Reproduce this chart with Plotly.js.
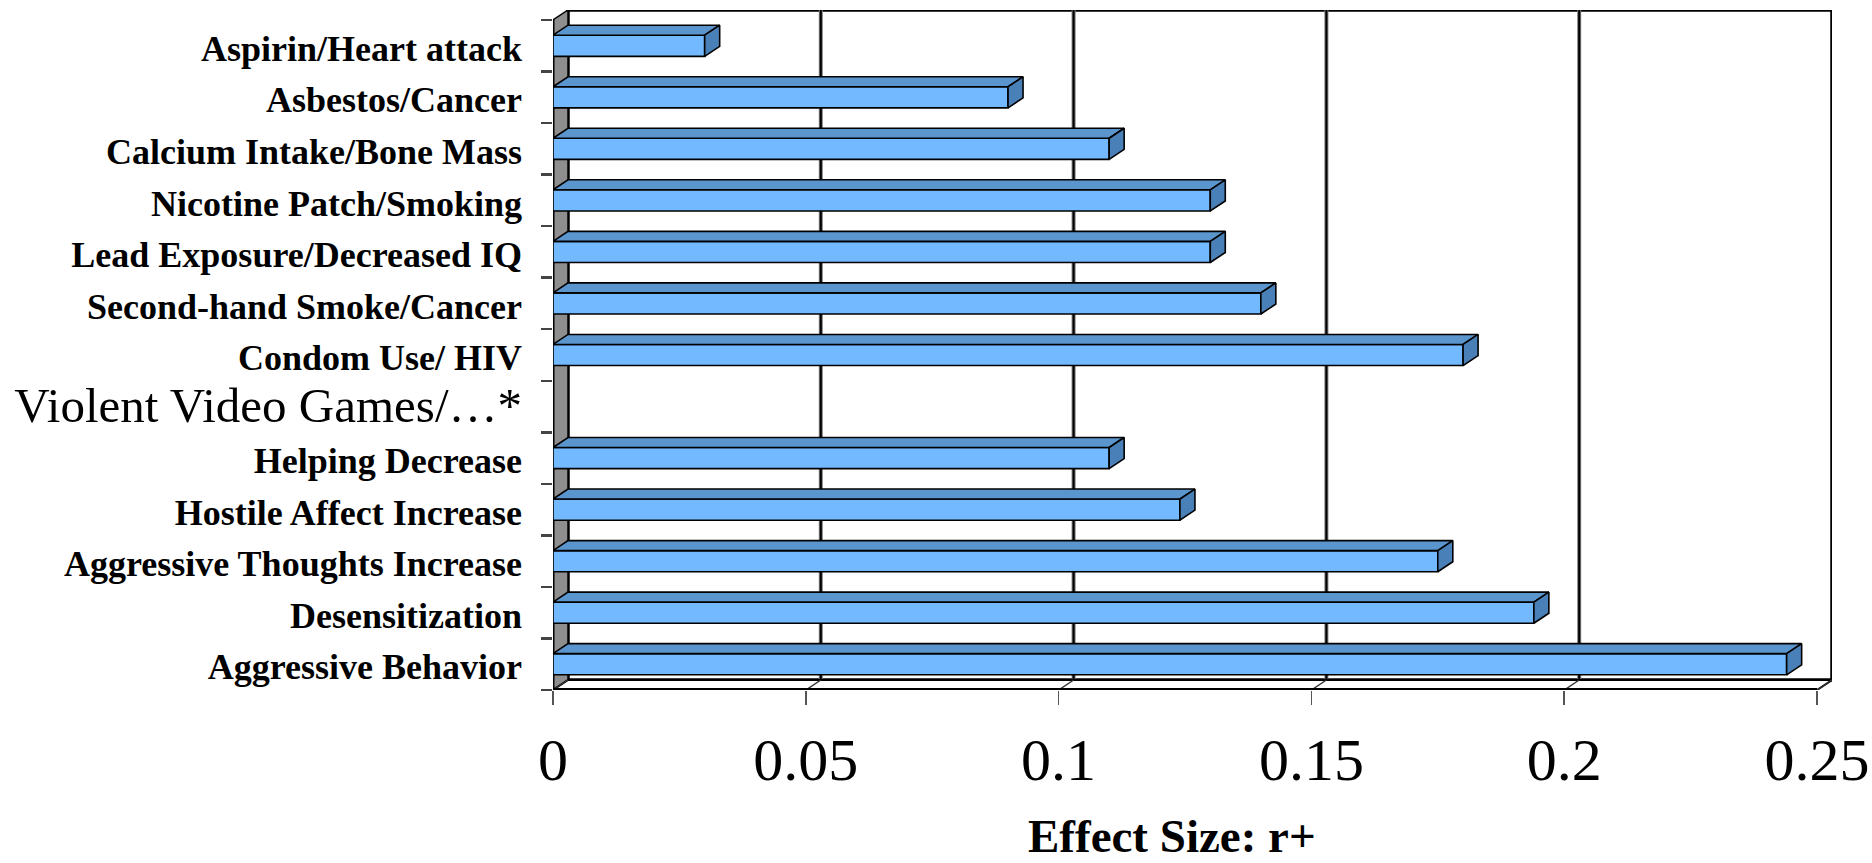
<!DOCTYPE html>
<html>
<head>
<meta charset="utf-8">
<script src="https://cdn.plot.ly/plotly-3.0.1.min.js"></script>
<style>
html,body{margin:0;padding:0;background:#ffffff;}
#chart{width:1872px;height:863px;}
</style>
</head>
<body>
<div id="chart"></div>
<script>
// ---- data ----
const categories = [
  "Aspirin/Heart attack",
  "Asbestos/Cancer",
  "Calcium Intake/Bone Mass",
  "Nicotine Patch/Smoking",
  "Lead Exposure/Decreased IQ",
  "Second-hand Smoke/Cancer",
  "Condom Use/ HIV",
  "Violent Video Games/…*",
  "Helping Decrease",
  "Hostile Affect Increase",
  "Aggressive Thoughts Increase",
  "Desensitization",
  "Aggressive Behavior"
];
const effectSizes = [0.03, 0.09, 0.11, 0.13, 0.13, 0.14, 0.18, null, 0.11, 0.124, 0.175, 0.194, 0.244];
const headerCategory = "Violent Video Games/…*";
const xTickVals = [0, 0.05, 0.1, 0.15, 0.2, 0.25];
const xTickText = ["0", "0.05", "0.1", "0.15", "0.2", "0.25"];
const xTitle = "Effect Size: r+";

// ---- geometry helpers (3-D look) ----
const N = categories.length;
const XMAX = 0.25;
const DX = XMAX * 15 / 1264;   // depth offset, x units
const DY = 10 / 51.54;         // depth offset, y units
const BAR_H = 0.41;
const yPos = categories.map((c, i) => N - 1 - i + 0.5);

const FONT = "Liberation Serif, Times New Roman, serif";
const FRONT = "#73B9FF", TOP = "#5A95CE", CAP = "#4A80B8", WALL = "#8E8E8E";

// front faces: real bar trace
const barTrace = {
  type: "bar", orientation: "h",
  x: effectSizes, y: yPos, base: 0, width: BAR_H,
  marker: {color: FRONT, line: {color: "#000", width: 1.6}},
  hoverinfo: "skip", showlegend: false
};

// top faces and end caps as filled polygons derived from the values
const topX = [], topY = [], capX = [], capY = [];
effectSizes.forEach((v, i) => {
  if (v === null) return;
  const yc = yPos[i], yt = yc + BAR_H / 2, yb = yc - BAR_H / 2;
  topX.push(0, v, v + DX, DX, 0, null);
  topY.push(yt, yt, yt + DY, yt + DY, yt, null);
  capX.push(v, v, v + DX, v + DX, v, null);
  capY.push(yb, yt, yt + DY, yb + DY, yb, null);
});
const topTrace = {type: "scatter", mode: "lines", x: topX, y: topY, fill: "toself",
  fillcolor: TOP, line: {color: "#000", width: 1.6}, hoverinfo: "skip", showlegend: false};
const capTrace = {type: "scatter", mode: "lines", x: capX, y: capY, fill: "toself",
  fillcolor: CAP, line: {color: "#000", width: 1.6}, hoverinfo: "skip", showlegend: false};
const dummy2 = {type: "scatter", x: [], y: [], yaxis: "y2", showlegend: false, hoverinfo: "skip"};

// ---- walls, floor, gridlines ----
const shapes = [];
// back wall
shapes.push({type: "path", layer: "below", xref: "x", yref: "y",
  path: `M ${DX},${DY} L ${XMAX + DX},${DY} L ${XMAX + DX},${N + DY} L ${DX},${N + DY} Z`,
  fillcolor: "#fff", line: {color: "#000", width: 3.5}});
// gridlines on the back wall
xTickVals.slice(1, -1).forEach(t => {
  shapes.push({type: "line", layer: "below", xref: "x", yref: "y",
    x0: t + DX, x1: t + DX, y0: DY, y1: N + DY, line: {color: "#7a7a7a", width: 4}});
  shapes.push({type: "line", layer: "below", xref: "x", yref: "y",
    x0: t + DX, x1: t + DX, y0: DY, y1: N + DY, line: {color: "#000", width: 2}});
});
// left wall
shapes.push({type: "path", layer: "below", xref: "x", yref: "y",
  path: `M 0,0 L ${DX},${DY} L ${DX},${N + DY} L 0,${N} Z`,
  fillcolor: WALL, line: {color: "#000", width: 1.5}});
// floor
shapes.push({type: "path", layer: "below", xref: "x", yref: "y",
  path: `M 0,0 L ${XMAX},0 L ${XMAX + DX},${DY} L ${DX},${DY} Z`,
  fillcolor: "#fff", line: {color: "#000", width: 2}});
xTickVals.forEach(t => {
  shapes.push({type: "line", layer: "below", xref: "x", yref: "y",
    x0: t, x1: t + DX, y0: 0, y1: DY, line: {color: "#333", width: 1.5}});
});
// front edges
shapes.push({type: "line", layer: "below", xref: "x", yref: "y",
  x0: 0, x1: XMAX, y0: 0, y1: 0, line: {color: "#000", width: 4}});
shapes.push({type: "line", layer: "below", xref: "x", yref: "y",
  x0: 0, x1: 0, y0: 0, y1: N, line: {color: "#000", width: 3}});

const tickText = categories.map(c => c === headerCategory
  ? `<span style="font-size:49px">${c}</span>` : `<b>${c}</b>`);

const layout = {
  width: 1872, height: 863,
  margin: {l: 553, r: 40, t: 10, b: 173, pad: 0},
  paper_bgcolor: "#fff", plot_bgcolor: "rgba(0,0,0,0)",
  showlegend: false,
  xaxis: {
    range: [0, XMAX + DX], showgrid: false, zeroline: false, showline: false,
    tickmode: "array", tickvals: xTickVals, ticktext: xTickText,
    ticks: "outside", ticklen: 14, tickwidth: 1.5, tickcolor: "#555",
    ticklabelstandoff: 3,
    tickfont: {family: FONT, size: 60, color: "#000"}
  },
  yaxis: {
    range: [0, N + DY], showgrid: false, zeroline: false, showline: false,
    tickmode: "array", tickvals: yPos.map(v => v - 0.05), ticktext: tickText,
    ticks: "", ticklabelstandoff: 30,
    tickfont: {family: FONT, size: 36, color: "#000"}
  },
  yaxis2: {
    overlaying: "y", side: "left", anchor: "x",
    range: [0, N + DY], showgrid: false, zeroline: false, showline: false,
    tickmode: "array", tickvals: categories.map((c, i) => i).concat([N]),
    ticks: "outside", ticklen: 11, tickwidth: 2.5, tickcolor: "#444",
    showticklabels: false
  },
  annotations: [{
    text: "<b>" + xTitle + "</b>", xref: "paper", yref: "paper",
    x: (1172 - 553) / 1279, y: (690 - 836) / 680, xanchor: "center", yanchor: "middle",
    showarrow: false, font: {family: FONT, size: 47, color: "#000"}
  }],
  shapes: shapes,
  bargap: 0
};

Plotly.newPlot("chart", [barTrace, topTrace, capTrace, dummy2], layout, {displayModeBar: false, staticPlot: true});
</script>
</body>
</html>
